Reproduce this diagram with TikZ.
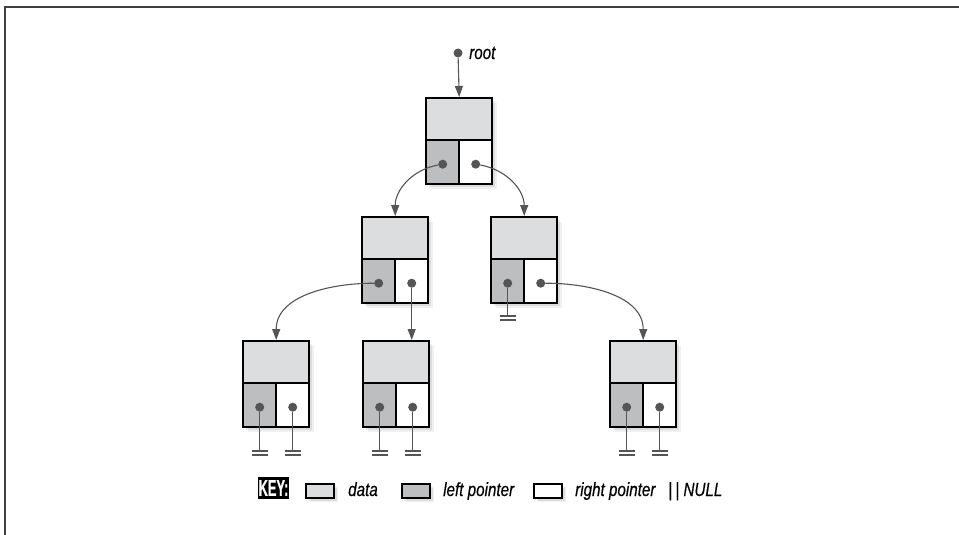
\documentclass[tikz,border=0pt]{standalone}
\usepackage{fontspec}
\newfontfamily\lblfont[FakeStretch=0.8,FakeBold=0.4]{Liberation Sans}
\newfontfamily\keyfont[FakeStretch=0.56,FakeBold=0.6]{Liberation Sans}
\usetikzlibrary{arrows.meta}
\definecolor{datac}{HTML}{DCDDDF}
\definecolor{leftc}{HTML}{BDBEC0}
\definecolor{linec}{HTML}{555555}
\tikzset{
 x=1pt, y=-1pt,
 cellbase/.style={draw=black, line width=2.4pt, inner sep=0pt, anchor=north west},
 datacell/.style={cellbase, fill=datac, minimum width=66pt, minimum height=42pt},
 leftcell/.style={cellbase, fill=leftc, minimum width=33pt, minimum height=44pt},
 rightcell/.style={cellbase, fill=white, minimum width=33pt, minimum height=44pt},
 dot/.style={circle, fill=linec, inner sep=0pt, minimum size=9pt},
 link/.style={draw=linec, line width=1.1pt},
 arrowlink/.style={link, -{Triangle[length=11pt,width=8pt]}},
 lbl/.style={font=\lblfont\itshape\fontsize{19}{19}\selectfont, text=black, inner sep=0pt, anchor=base west},
 keycell/.style={draw=black, line width=2.2pt, inner sep=0pt, anchor=north west, minimum width=28pt, minimum height=14pt},
}
\newcommand\treebox[3]{%
 \foreach \s/\o in {2/0.10,4/0.08,6/0.06}{\fill[black,opacity=\o] ({#2+\s},{#3+\s}) rectangle ++(66,86);}
 \node[datacell] (#1-d) at (#2,#3) {};
 \node[leftcell] (#1-l) at (#2,{#3+42}) {};
 \node[rightcell] (#1-r) at ({#2+33},{#3+42}) {};
 \node[dot] (#1-ld) at ([yshift=-2pt]#1-l.center) {};
 \node[dot] (#1-rd) at ([yshift=-2pt]#1-r.center) {};
}
\newcommand\nullat[2]{%
 \coordinate (#1-n) at (#1 |- 0,#2);
 \draw[link] (#1) -- (#1-n);
 \draw[link] ([xshift=-8pt]#1-n) -- ([xshift=8pt]#1-n)
             ([xshift=-8pt,yshift=-4pt]#1-n) -- ([xshift=8pt,yshift=-4pt]#1-n);
}
\newcommand\keybox[3]{%
 \foreach \s/\o in {2/0.10,4/0.08,5/0.06}{\fill[black,opacity=\o] ({#2+\s},{483+\s}) rectangle ++(28,14);}
 \node[keycell, fill=#3] (#1) at (#2,483) {};
}
\begin{document}
\begin{tikzpicture}
\useasboundingbox (0,0) rectangle (959,535);
\fill[white] (0,0) rectangle (959,535);
\draw[line width=2pt, draw=black!75] (5,535) -- (5,7) -- (959,7);

\treebox{R}{425}{97}
\treebox{A}{361}{216}
\treebox{B}{490}{216}
\treebox{C}{242}{340}
\treebox{D}{362}{340}
\treebox{E}{609}{340}

\node[dot] (root) at (458,53) {};
\node[lbl] (rootlbl) at (469,59) {root};
\draw[arrowlink] (root) -- (R-d.north);

\draw[arrowlink] (R-ld) to[out=190,in=90] (A-d.north);
\draw[arrowlink] (R-rd) to[out=-10,in=90] (B-d.north);
\draw[arrowlink] (A-ld) to[out=180,in=90] (C-d.north);
\draw[arrowlink] (A-rd) -- (A-rd |- D-d.north);
\draw[arrowlink] (B-rd) to[out=0,in=90] (E-d.north);

\nullat{B-ld}{316}
\nullat{C-ld}{451}
\nullat{C-rd}{451}
\nullat{D-ld}{451}
\nullat{D-rd}{451}
\nullat{E-ld}{451}
\nullat{E-rd}{451}

\node[fill=black, text=white, inner sep=0pt, minimum width=31pt, minimum height=22pt,
      font=\keyfont\bfseries\fontsize{23}{23}\selectfont] (key) at (273.5,488) {KEY:};
\keybox{kd}{305}{datac}
\node[lbl] (kdl) at (348,496) {data};
\keybox{kl}{401}{leftc}
\node[lbl] (kll) at (443,496) {left pointer};
\keybox{kr}{533}{white}
\node[lbl] (krl) at (575,496) {right pointer};
\node[lbl] (knl) at (668,496) {|\,| NULL};
\end{tikzpicture}
\end{document}
